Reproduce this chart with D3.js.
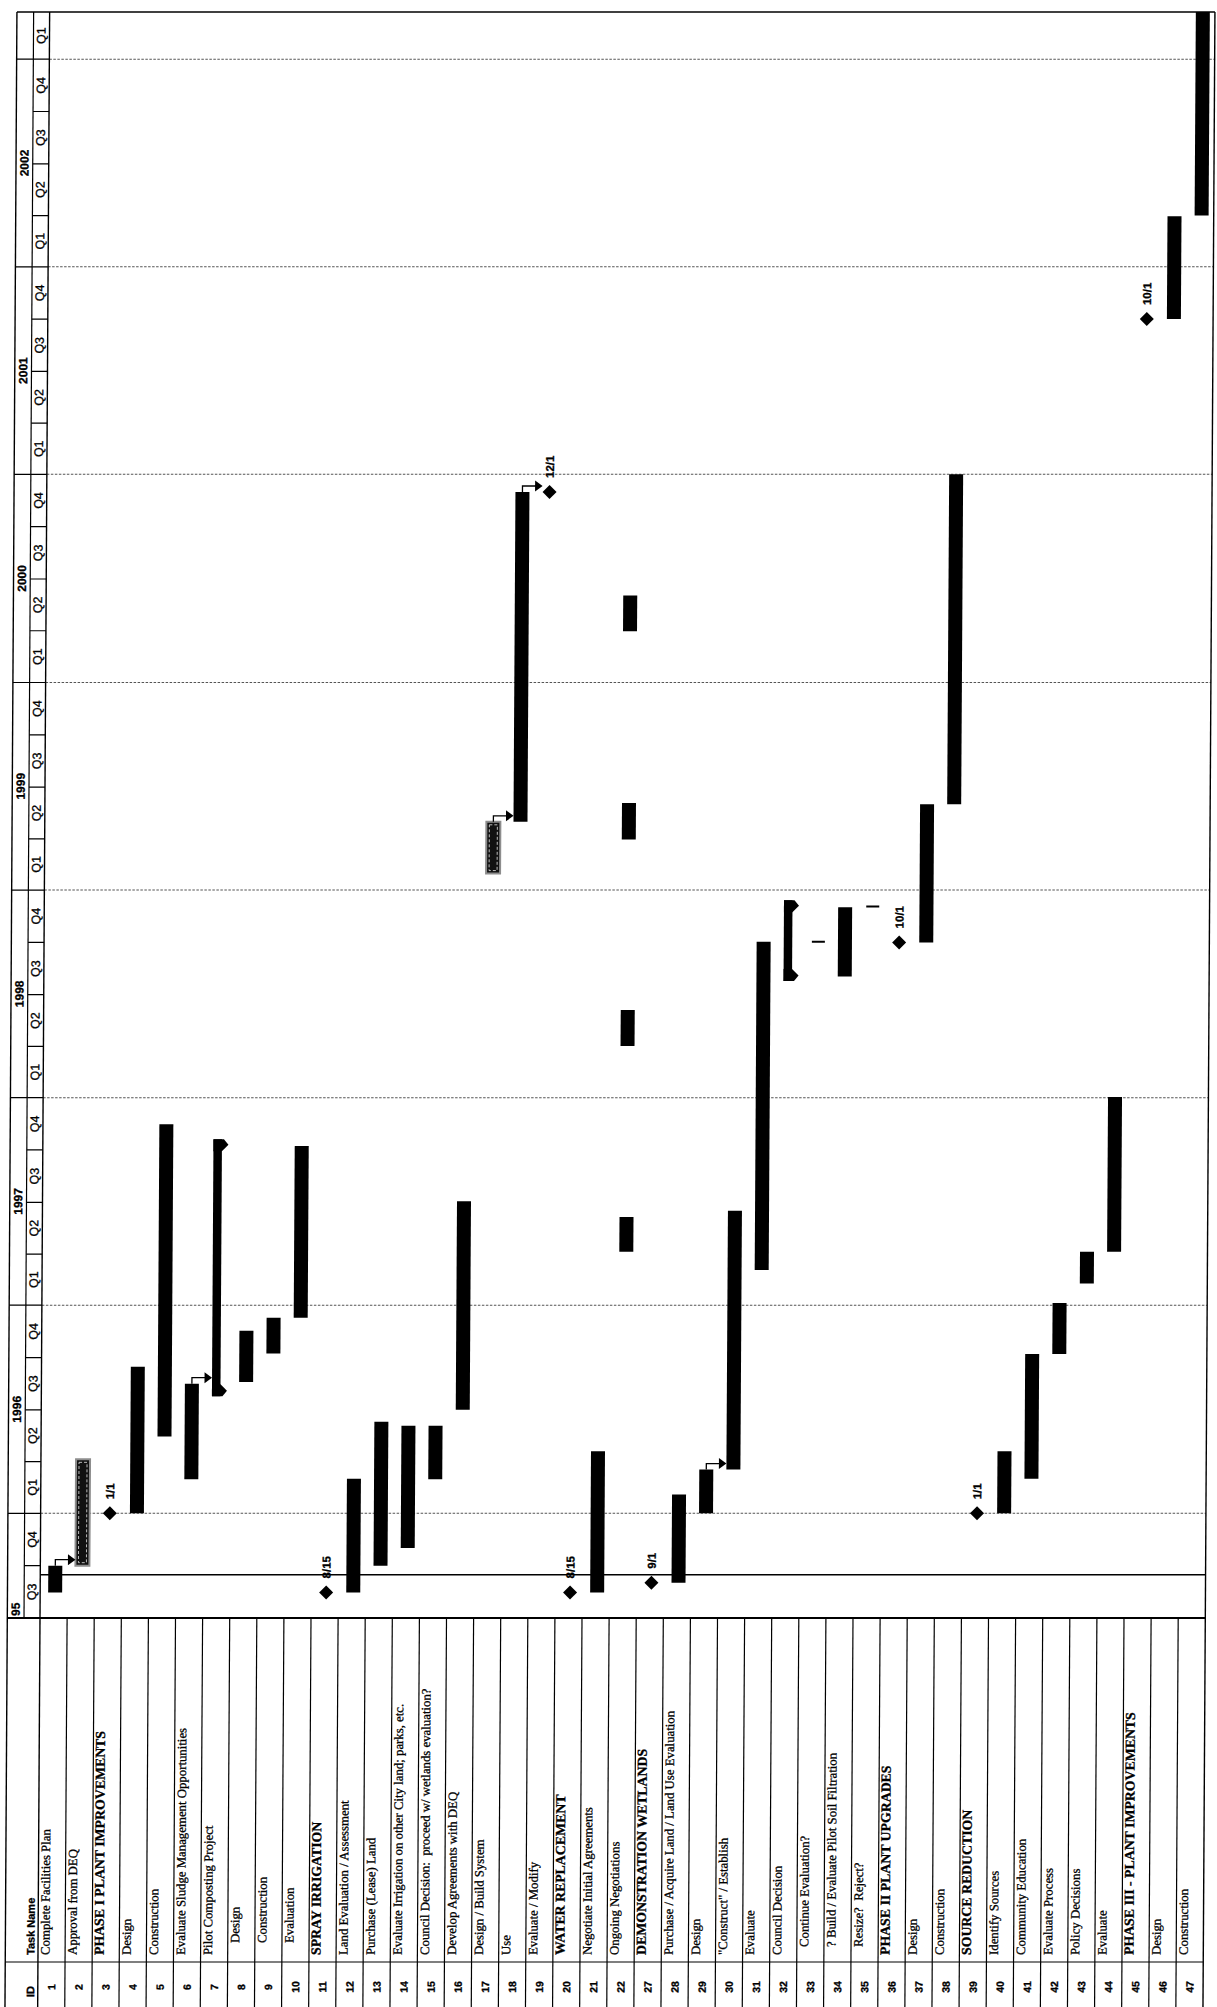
<!DOCTYPE html>
<html>
<head>
<meta charset="utf-8">
<script src="https://cdn.jsdelivr.net/npm/d3@7"></script>
<style>
  html, body { margin: 0; padding: 0; background: #fff; }
  svg { display: block; }
  text { white-space: pre; stroke: #000; stroke-width: 0.3px; }
</style>
</head>
<body>
<svg id="chart" width="1217" height="2007"></svg>
<script>
// ---- Task table ----
const taskIds = [1, 2, 3, 4, 5, 6, 7, 8, 9, 10, 11, 12, 13, 14, 15, 16, 17, 18, 19, 20, 21, 22,
  27, 28, 29, 30, 31, 32, 33, 34, 35, 36, 37, 38, 39, 40, 41, 42, 43, 44, 45, 46, 47];
const taskNames = [
  "Complete Facilities Plan", "Approval from DEQ", "PHASE I PLANT IMPROVEMENTS", "Design",
  "Construction", "Evaluate Sludge Management Opportunities", "Pilot Composting Project",
  "Design", "Construction", "Evaluation", "SPRAY IRRIGATION", "Land Evaluation / Assessment",
  "Purchase (Lease) Land", "Evaluate Irrigation on other City land; parks, etc.",
  "Council Decision:  proceed w/ wetlands evaluation?", "Develop Agreements with DEQ",
  "Design / Build System", "Use", "Evaluate / Modify", "WATER REPLACEMENT",
  "Negotiate Initial Agreements", "Ongoing Negotiations", "DEMONSTRATION WETLANDS",
  "Purchase / Acquire Land / Land Use Evaluation", "Design", "\"Construct\" / Establish",
  "Evaluate", "Council Decision", "Continue Evaluation?", "? Build / Evaluate Pilot Soil Filtration",
  "Resize?  Reject?", "PHASE II PLANT UPGRADES", "Design", "Construction", "SOURCE REDUCTION",
  "Identify Sources", "Community Education", "Evaluate Process", "Policy Decisions", "Evaluate",
  "PHASE III - PLANT IMPROVEMENTS", "Design", "Construction"];
const headingTasks = [3, 11, 20, 27, 36, 39, 45];
const indentDeepTasks = [8, 9, 10];
const indentShallowTasks = [33, 34, 35];

// ---- Task bars (one entry per bar; task 22 is split into yearly pieces) ----
const barTasks = [1, 2, 4, 5, 6, 8, 9, 10, 12, 13, 14, 15, 16, 17, 18, 21,
  22, 22, 22, 22, 28, 29, 30, 31, 34, 37, 38, 40, 41, 42, 43, 44, 46, 47];
const barStarts = ["1995-08-15", "1995-10-01", "1996-01-01", "1996-05-15", "1996-03-01",
  "1996-08-19", "1996-10-08", "1996-12-10", "1995-08-15", "1995-10-01", "1995-11-01",
  "1996-03-01", "1996-07-01", "1999-01-30", "1999-05-01", "1995-08-15",
  "1997-04-05", "1998-04-02", "1999-03-31", "2000-03-31",
  "1995-09-01", "1996-01-01", "1996-03-18", "1997-03-04", "1998-08-02", "1998-10-01",
  "1999-06-01", "1996-01-01", "1996-03-02", "1996-10-07", "1997-02-08", "1997-04-05",
  "2001-10-01", "2002-04-01"];
const barEnds = ["1995-10-01", "1996-04-05", "1996-09-15", "1997-11-15", "1996-08-16",
  "1996-11-17", "1996-12-10", "1997-10-08", "1996-03-02", "1996-06-10", "1996-06-03",
  "1996-06-03", "1997-07-03", "1999-05-01", "2000-12-01", "1996-04-19",
  "1997-06-05", "1998-06-04", "1999-06-03", "2000-06-02",
  "1996-02-03", "1996-03-18", "1997-06-16", "1998-10-02", "1998-12-02", "1999-06-01",
  "2001-01-01", "1996-04-19", "1996-10-07", "1997-01-05", "1997-04-05", "1998-01-02",
  "2002-03-31", "2003-06-30"];
const patternedTasks = [2, 17];

// ---- Summary bars ----
const summaryTasks = [7, 32];
const summaryStarts = ["1996-07-25", "1998-07-25"];
const summaryEnds = ["1997-10-20", "1998-12-14"];

// ---- Short tick marks ----
const tickTasks = [33, 35];
const tickDates = ["1998-10-02", "1998-12-03"];

// ---- Milestones ----
const milestoneTasks = [3, 11, 19, 20, 27, 36, 39, 45];
const milestoneDates = ["1996-01-01", "1995-08-15", "2000-12-01", "1995-08-15",
  "1995-09-01", "1998-10-01", "1996-01-01", "2001-10-01"];
const milestoneLabels = ["1/1", "8/15", "12/1", "8/15", "9/1", "10/1", "1/1", "10/1"];

// ---- Finish-to-start links ----
const linkFrom = [1, 6, 17, 18, 29];
const linkTo = [2, 7, 18, 19, 30];

// ---- Timescale ----
const timeStart = "1995-07-01";
const timeEnd = "2003-03-25";
const statusDate = "1995-09-15";
const yearStarts = ["1995-07-01", "1996-01-01", "1997-01-01", "1998-01-01", "1999-01-01",
  "2000-01-01", "2001-01-01", "2002-01-01", "2003-01-01"];
const yearLabels = ["95", "1996", "1997", "1998", "1999", "2000", "2001", "2002", ""];
const quarterLabels = ["Q3", "Q4",
  "Q1", "Q2", "Q3", "Q4", "Q1", "Q2", "Q3", "Q4", "Q1", "Q2", "Q3", "Q4",
  "Q1", "Q2", "Q3", "Q4", "Q1", "Q2", "Q3", "Q4", "Q1", "Q2", "Q3", "Q4",
  "Q1", "Q2", "Q3", "Q4", "Q1"];

(function draw() {
  // ---- Layout ----
  const W = 1217, H = 2007;
  const plotTop = 12, timeBottom = 1618;
  const frameLeft = 7.3, yearColRight = 24, headerRight = 40, chartRight = 1205.3;
  const idSep = 1962;
  const serif = "'Liberation Serif', 'Times New Roman', serif";
  const sans = "'Liberation Sans', Arial, sans-serif";

  const parse = d3.utcParse("%Y-%m-%d");
  const y = d3.scaleUtc().domain([parse(timeStart), parse(timeEnd)]).range([timeBottom, plotTop]);
  const row = d3.scaleBand().domain(taskIds).range([headerRight, chartRight]);
  const rowStep = row.step();
  const cx = id => row(id) + 15;   // centre line of the marks in a row

  const svg = d3.select("#chart");
  svg.append("rect").attr("width", W).attr("height", H).attr("fill", "#fff");

  // the printed sheet sits slightly sheared
  const k = -0.006;
  const root = svg.append("g").attr("transform", `matrix(1,0,${k},1,${-k * timeBottom},0)`);

  const defs = svg.append("defs");
  defs.append("clipPath").attr("id", "plot-clip")
    .append("rect").attr("x", headerRight).attr("y", plotTop)
    .attr("width", chartRight - headerRight).attr("height", timeBottom - plotTop);

  const line = (g, x1, y1, x2, y2, w, dash, col) => g.append("line")
    .attr("x1", x1).attr("y1", y1).attr("x2", x2).attr("y2", y2)
    .attr("stroke", col || "#000").attr("stroke-width", w || 1)
    .attr("stroke-dasharray", dash || null);

  const vtext = (g, x, yy, str, opts) => g.append("text")
    .attr("transform", `translate(${x},${yy}) rotate(-90)`)
    .attr("text-anchor", opts.anchor || "start")
    .attr("font-family", opts.family || sans)
    .attr("font-size", opts.size || 11)
    .attr("font-weight", opts.weight || "normal")
    .attr("fill", "#000")
    .text(str);

  // ---- Year gridlines and status line ----
  const grid = root.append("g");
  yearStarts.slice(1).forEach(d => {
    const yy = y(parse(d));
    line(grid, headerRight, yy, chartRight, yy, 1, "2.5,1.5", "#555");
  });
  const sy = y(parse(statusDate));
  line(grid, headerRight, sy, chartRight, sy, 1.6);

  // ---- Timescale header ----
  const hdr = root.append("g");
  yearStarts.forEach((d, i) => {
    const y0 = Math.min(timeBottom, y(parse(d)));
    const y1 = i + 1 < yearStarts.length ? y(parse(yearStarts[i + 1])) : plotTop;
    if (i > 0) line(hdr, frameLeft, y0, yearColRight, y0, 1.2);
    if (!yearLabels[i]) return;
    if (i === 0) {
      vtext(hdr, 19.8, y0 - 2, yearLabels[i], { size: 12, weight: "bold" });
    } else {
      vtext(hdr, 19.8, (y0 + y1) / 2, yearLabels[i], { size: 12, weight: "bold", anchor: "middle" });
    }
  });
  const qStarts = d3.utcMonth.range(parse(timeStart), parse(timeEnd), 3);
  qStarts.forEach((d, i) => {
    const y0 = y(d);
    const y1 = i + 1 < qStarts.length ? y(qStarts[i + 1]) : plotTop;
    if (i > 0) line(hdr, yearColRight, y0, headerRight, y0, 1.2);
    vtext(hdr, 36, (y0 + y1) / 2, quarterLabels[i], { size: 12.5, anchor: "middle" });
  });

  // ---- Table ----
  const tbl = root.append("g");
  taskIds.forEach((id, i) => {
    const x0 = row(id);
    if (i > 0) line(tbl, x0, timeBottom, x0, H, 1.2);
    const bold = headingTasks.includes(id);
    let indent = 0;
    if (indentDeepTasks.includes(id)) indent = 12;
    if (indentShallowTasks.includes(id)) indent = 8;
    vtext(tbl, x0 + 11.5, 1955 - indent, taskNames[i], {
      family: serif, size: bold ? 13.8 : 12.8, weight: bold ? "bold" : "normal"
    });
    vtext(tbl, x0 + rowStep / 2 + 4, 1987, String(id), { size: 10.5, weight: "bold", anchor: "middle" });
  });
  vtext(tbl, headerRight - 3.5, 1955, "Task Name", { size: 11, weight: "bold" });
  vtext(tbl, headerRight - 3.5, 1997, "ID", { size: 11, weight: "bold" });
  line(tbl, frameLeft, idSep, chartRight, idSep, 1.2);

  // ---- Frame ----
  const frame = root.append("g");
  line(frame, frameLeft, plotTop, chartRight, plotTop, 1.4);
  line(frame, frameLeft, timeBottom, chartRight, timeBottom, 2);
  line(frame, frameLeft, plotTop, frameLeft, H, 1.4);
  line(frame, yearColRight, plotTop, yearColRight, timeBottom, 1.2);
  line(frame, headerRight, plotTop, headerRight, H, 1.4);
  line(frame, chartRight, plotTop, chartRight, H, 1.4);

  // ---- Gantt marks ----
  const plot = root.append("g").attr("clip-path", "url(#plot-clip)");

  barTasks.forEach((id, i) => {
    const ys = y(parse(barStarts[i])), ye = y(parse(barEnds[i]));
    const x0 = row(id) + 8;
    if (patternedTasks.includes(id)) {
      plot.append("rect").attr("x", x0).attr("y", ye).attr("width", 14).attr("height", ys - ye)
        .attr("fill", "#111").attr("stroke", "#8d8d8d").attr("stroke-width", 2);
      plot.append("rect").attr("x", x0 + 3).attr("y", ye + 3).attr("width", 8)
        .attr("height", Math.max(0, ys - ye - 6))
        .attr("fill", "none").attr("stroke", "#cfcfcf").attr("stroke-width", 0.9)
        .attr("stroke-dasharray", "3,2");
    } else {
      plot.append("rect").attr("x", x0).attr("y", ye).attr("width", 14).attr("height", ys - ye)
        .attr("fill", "#000");
    }
  });

  summaryTasks.forEach((id, i) => {
    const ys = y(parse(summaryStarts[i])), ye = y(parse(summaryEnds[i]));
    const xl = row(id) + 8, xr = row(id) + 16.5;
    plot.append("rect").attr("x", xl).attr("y", ye).attr("width", xr - xl).attr("height", ys - ye)
      .attr("fill", "#000");
    plot.append("polygon").attr("fill", "#000")
      .attr("points", [[xl, ye], [xr + 2, ye], [xr + 6.5, ye + 5.5], [xr, ye + 12], [xl, ye + 12]].join(" "));
    plot.append("polygon").attr("fill", "#000")
      .attr("points", [[xl, ys], [xr + 2, ys], [xr + 6.5, ys - 5.5], [xr, ys - 12], [xl, ys - 12]].join(" "));
  });

  tickTasks.forEach((id, i) => {
    const yy = y(parse(tickDates[i]));
    line(plot, row(id) + 9, yy, row(id) + 22, yy, 2);
  });

  const endOf = id => {
    const ends = barTasks.map((t, i) => t === id ? y(parse(barEnds[i])) : null).filter(v => v !== null);
    return d3.min(ends);
  };
  linkFrom.forEach((from, i) => {
    const to = linkTo[i];
    const yEnd = endOf(from);
    const yl = yEnd - 6;
    const xs = cx(from);
    const xt = milestoneTasks.includes(to) ? cx(to) - 7 : row(to) + 8;
    plot.append("path")
      .attr("d", `M${xs},${yEnd}V${yl}H${xt - 6}`)
      .attr("fill", "none").attr("stroke", "#000").attr("stroke-width", 1.3);
    plot.append("polygon").attr("fill", "#000")
      .attr("points", [[xt - 7.5, yl - 5.5], [xt, yl], [xt - 7.5, yl + 5.5]].join(" "));
  });

  milestoneTasks.forEach((id, i) => {
    const yy = y(parse(milestoneDates[i]));
    const x = cx(id);
    plot.append("polygon").attr("fill", "#000")
      .attr("points", [[x, yy - 7], [x + 7, yy], [x, yy + 7], [x - 7, yy]].join(" "));
    vtext(root, x + 4.2, yy - 14, milestoneLabels[i], { size: 11.5, weight: "bold" });
  });
})();
</script>
</body>
</html>
